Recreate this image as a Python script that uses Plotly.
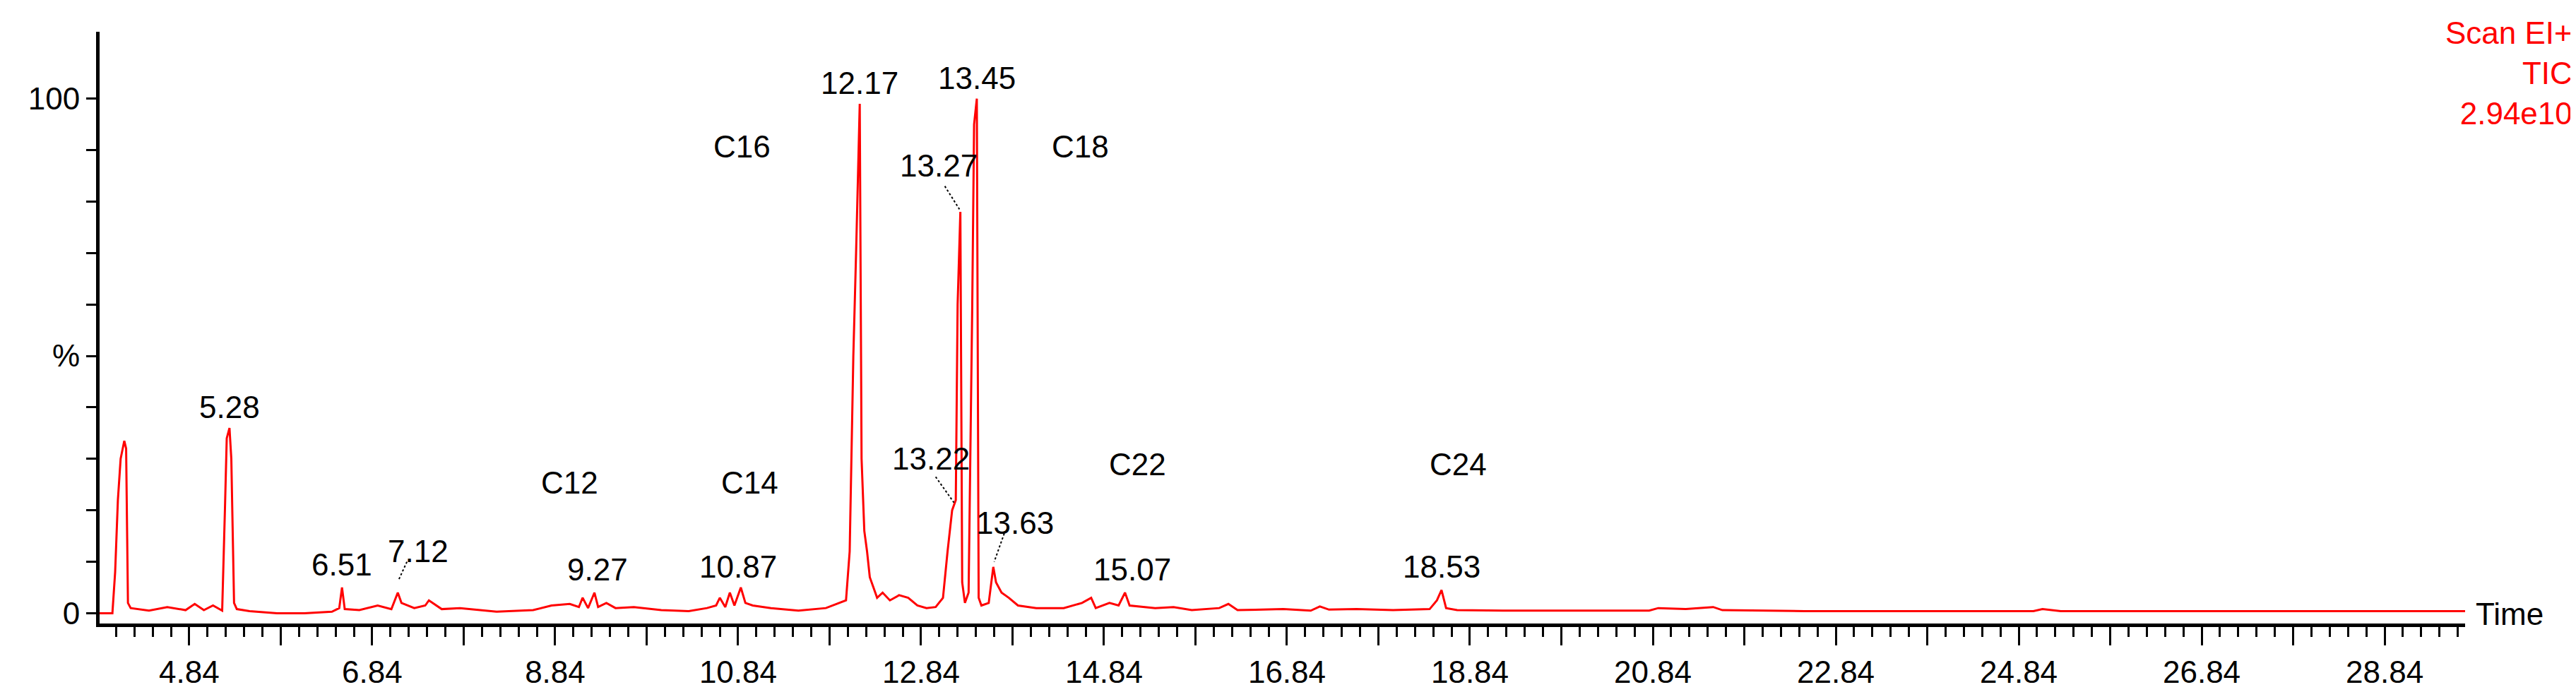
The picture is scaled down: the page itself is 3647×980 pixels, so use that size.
import plotly.graph_objects as go

# chromatogram trace (retention time in min, relative abundance %)
rt = [3.86, 4.00, 4.03, 4.06, 4.09, 4.11, 4.13, 4.15, 4.17, 4.20, 4.40, 4.60, 4.80, 4.90, 5.00, 5.10, 5.20,
      5.23, 5.25, 5.28, 5.30, 5.33, 5.36, 5.50, 5.80, 6.10, 6.40, 6.48, 6.51, 6.54, 6.70, 6.90, 7.05, 7.12,
      7.16, 7.30, 7.42, 7.46, 7.60, 7.80, 8.20, 8.60, 8.80, 9.00, 9.10, 9.14, 9.20, 9.27, 9.31, 9.40, 9.50,
      9.70, 10.00, 10.30, 10.50, 10.60, 10.64, 10.70, 10.75, 10.80, 10.87, 10.92, 11.00, 11.20, 11.50,
      11.80, 11.95, 12.02, 12.06, 12.10, 12.13, 12.17, 12.19, 12.22, 12.25, 12.28, 12.32, 12.36, 12.42,
      12.50, 12.60, 12.70, 12.80, 12.90, 13.00, 13.08, 13.13, 13.18, 13.22, 13.24, 13.27, 13.29, 13.32,
      13.36, 13.40, 13.42, 13.45, 13.47, 13.50, 13.58, 13.63, 13.66, 13.72, 13.80, 13.90, 14.10, 14.40,
      14.60, 14.70, 14.75, 14.90, 15.00, 15.07, 15.12, 15.40, 15.60, 15.80, 16.10, 16.20, 16.30, 16.80,
      17.10, 17.20, 17.30, 17.60, 18.00, 18.40, 18.48, 18.53, 18.58, 18.70, 19.20, 20.00, 20.80, 20.90,
      21.20, 21.50, 21.60, 22.50, 24.00, 25.00, 25.10, 25.30, 26.00, 27.00, 28.00, 29.20, 29.72]
abund = [0.0, 0.0, 8.0, 22.0, 30.0, 32.0, 33.5, 32.0, 2.0, 1.0, 0.5, 1.2, 0.6, 1.8, 0.6, 1.5, 0.5,
         20.0, 34.0, 36.0, 30.0, 2.0, 0.8, 0.4, 0.0, 0.0, 0.3, 1.0, 5.0, 0.8, 0.6, 1.5, 0.8, 4.0,
         2.0, 1.0, 1.5, 2.5, 0.8, 1.0, 0.3, 0.6, 1.5, 1.8, 1.2, 3.0, 1.0, 4.0, 1.2, 2.0, 1.0,
         1.2, 0.6, 0.4, 1.0, 1.5, 3.0, 1.2, 4.0, 1.5, 5.0, 2.0, 1.5, 1.0, 0.5,
         1.0, 2.0, 2.5, 12.0, 50.0, 70.0, 99.0, 30.0, 16.0, 12.0, 7.0, 5.0, 3.0, 4.0,
         2.5, 3.5, 3.0, 1.5, 1.0, 1.2, 3.0, 12.0, 20.0, 22.0, 60.0, 78.0, 6.0, 2.0,
         4.0, 60.0, 95.0, 100.0, 3.0, 1.5, 2.0, 9.0, 6.0, 4.0, 3.0, 1.5, 1.0, 1.0,
         2.0, 3.0, 1.0, 2.0, 1.5, 4.0, 1.5, 1.0, 1.2, 0.6, 1.0, 1.8, 0.6, 0.8,
         0.5, 1.3, 0.7, 0.8, 0.6, 0.8, 2.5, 4.5, 1.0, 0.6, 0.5, 0.5, 0.5, 1.0,
         0.8, 1.2, 0.6, 0.4, 0.4, 0.4, 0.8, 0.4, 0.4, 0.4, 0.4, 0.4, 0.4]

# peak retention-time labels: text, x, y
peak_text = ["5.28", "6.51", "7.12", "9.27", "10.87", "12.17", "13.27", "13.45", "13.22", "13.63", "15.07", "18.53"]
peak_x = [5.28, 6.51, 7.34, 9.30, 10.84, 12.17, 13.03, 13.45, 12.95, 13.87, 15.15, 18.53]
peak_y = [40.0, 9.5, 12.0, 8.5, 9.0, 103.0, 87.0, 104.0, 30.0, 17.5, 8.5, 9.0]

# leader lines: (x0, y0) label end -> (x1, y1) peak top
lead_x0 = [7.22, 13.10, 13.00, 13.75]
lead_y0 = [10.0, 83.0, 26.5, 15.5]
lead_x1 = [7.13, 13.26, 13.20, 13.64]
lead_y1 = [6.5, 78.5, 21.5, 10.0]

# compound labels
comp_text = ["C12", "C14", "C16", "C18", "C22", "C24"]
comp_x = [9.00, 10.97, 10.88, 14.58, 15.21, 18.71]
comp_y = [25.4, 25.4, 90.7, 90.7, 29.0, 29.0]

FONT = "Liberation Sans, Arial"
FS = 44

fig = go.Figure()
fig.add_trace(go.Scatter(x=rt, y=abund, mode="lines", line=dict(color="#ff0000", width=3),
                         hoverinfo="skip"))

for t, x, y in zip(peak_text, peak_x, peak_y):
    fig.add_annotation(x=x, y=y, text=t, showarrow=False, font=dict(family=FONT, size=FS, color="black"))
for t, x, y in zip(comp_text, comp_x, comp_y):
    fig.add_annotation(x=x, y=y, text=t, showarrow=False, font=dict(family=FONT, size=FS, color="black"))
for x0, y0, x1, y1 in zip(lead_x0, lead_y0, lead_x1, lead_y1):
    fig.add_shape(type="line", x0=x0, y0=y0, x1=x1, y1=y1, line=dict(color="black", width=2, dash="dot"))

fig.add_annotation(xref="paper", yref="paper", x=1.046, y=1.03, xanchor="right", yanchor="top",
                   text="Scan EI+<br>TIC<br>2.94e10", showarrow=False, align="right",
                   font=dict(family=FONT, size=FS, color="#ff0000"))
fig.add_annotation(xref="paper", yref="paper", x=1.004, y=0.016, xanchor="left", yanchor="middle",
                   text="Time", showarrow=False, font=dict(family=FONT, size=FS, color="black"))

major = [3.84 + i for i in range(26)]
fig.update_xaxes(range=[3.86, 29.72], tickvals=major,
                 ticktext=[f"{v:.2f}" if i % 2 == 1 else "" for i, v in enumerate(major)],
                 ticks="outside", ticklen=26, tickwidth=3, tickcolor="black",
                 minor=dict(dtick=0.2, tick0=3.84, ticks="outside", ticklen=14, tickwidth=3, tickcolor="black"),
                 showline=True, linecolor="black", linewidth=5, showgrid=False, zeroline=False,
                 tickfont=dict(family=FONT, size=FS, color="black"))
yt = list(range(0, 101, 10))
fig.update_yaxes(range=[-2, 113], tickvals=yt,
                 ticktext=["0", "", "", "", "", "%", "", "", "", "", "100"],
                 ticks="outside", ticklen=14, tickwidth=3, tickcolor="black",
                 showline=True, linecolor="black", linewidth=5, showgrid=False, zeroline=False,
                 tickfont=dict(family=FONT, size=FS, color="black"))

fig.update_layout(width=3647, height=980, margin=dict(l=133, r=165, t=37, b=77),
                  plot_bgcolor="white", paper_bgcolor="white", showlegend=False)

fig.write_html("out.html")
